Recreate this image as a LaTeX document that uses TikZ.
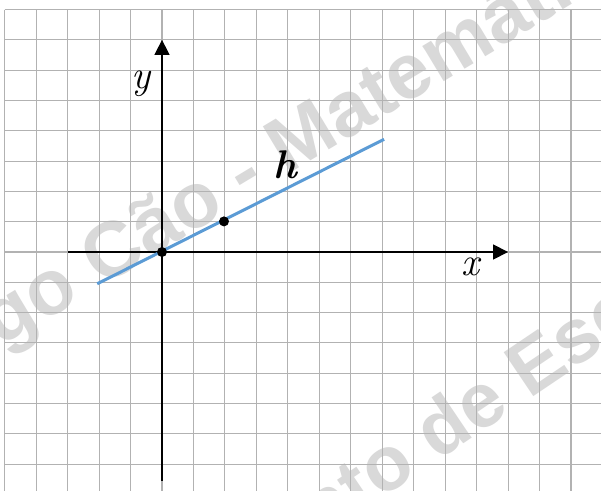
\documentclass[tikz,border=0pt]{standalone}
\usepackage{fontspec}
\usetikzlibrary{arrows.meta}
\newfontfamily\wmfont{Liberation Sans}
\begin{document}
\begin{tikzpicture}[
  wm/.style={font=\wmfont\bfseries\fontsize{77}{77}\selectfont, text=black!15, inner sep=0pt, anchor=base west},
  gridline/.style={draw=black!30, line width=1.1pt},
  axis/.style={draw=black, line width=1.5pt, -{Triangle[length=15pt,width=15pt]}},
  hline/.style={draw={rgb,255:red,91;green,155;blue,213}, line width=3pt},
  dot/.style={circle, fill=black, inner sep=0pt, minimum size=10pt},
  lbl/.style={font=\itshape\fontsize{40}{40}\selectfont, inner sep=0pt}
]
\useasboundingbox (0pt,0pt) rectangle (601pt,490pt);
\clip (0pt,0pt) rectangle (601pt,490pt);
\fill[white] (0pt,0pt) rectangle (601pt,490pt);
% watermarks
\node[wm, rotate=31, font=\wmfont\bfseries\fontsize{78}{78}\selectfont] (wmA) at (-107pt,77.6pt) {Diogo Cão - Matemática};
\node[wm, rotate=34] (wmB) at (4.3pt,-263.4pt) {Agrupamento de Escolas};
\begin{scope}[shift={(162pt,238pt)}, x=31.46pt, y=30.3pt]
  % grid
  \foreach \k in {-5,...,13} \draw[gridline] (\k,8) -- (\k,-8.5);
  \foreach \j in {-7,...,8} \draw[gridline] (-5,\j) -- (14.5,\j);
  % axes
  \coordinate (xs) at (-3,0);
  \coordinate (xe) at (11,0);
  \coordinate (ys) at (0,-7.55);
  \coordinate (ye) at (0,7);
  \draw[axis] (xs) -- (xe);
  \draw[axis] (ys) -- (ye);
  % line h
  \coordinate (hs) at (-2.06,-1.05);
  \coordinate (he) at (7.06,3.72);
  \draw[hline] (hs) -- (he);
  % points
  \node[dot] (O) at (0,0) {};
  \node[dot] (P) at (1.97,1.01) {};
  % labels
  \node[lbl] (ylab) at (-0.67,5.55) {y};
  \node[lbl] (xlab) at (9.82,-0.5) {x};
  \node[lbl, font=\bfseries\itshape\fontsize{40}{40}\selectfont] (hlab) at (3.91,2.87) {h};
\end{scope}
\end{tikzpicture}
\end{document}
